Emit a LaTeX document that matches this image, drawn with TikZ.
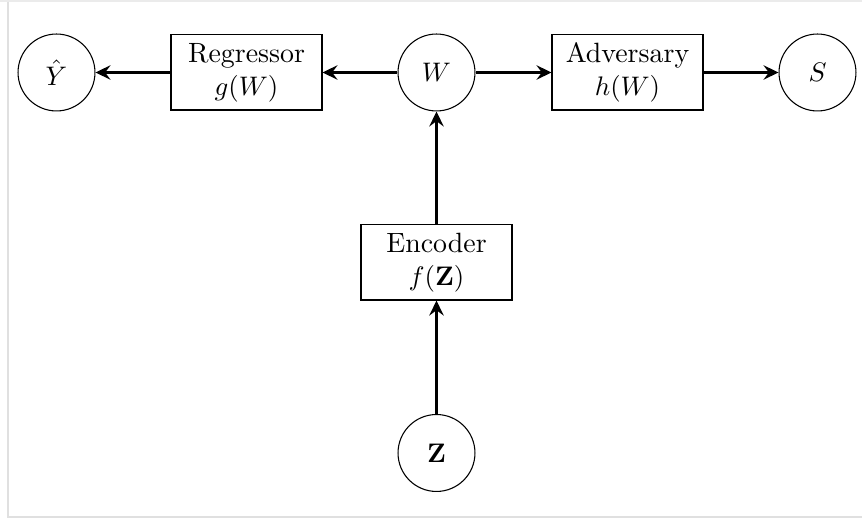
\documentclass[tikz,border=0pt]{standalone}
\usetikzlibrary{arrows.meta}
\begin{document}
\begin{tikzpicture}[x=0.373pt,y=-0.373pt,
  every node/.style={font=\fontsize{10.4pt}{12.4pt}\selectfont},
  varnode/.style={draw, circle, line width=0.4pt, minimum size=28.7pt, inner sep=0pt},
  blockbox/.style={draw, rectangle, line width=0.4pt, minimum width=56.3pt, minimum height=28pt, align=center, inner sep=0pt},
  flow/.style={-{Stealth[length=5.6pt,width=5.4pt,inset=2pt]}, line width=0.8pt}]
\useasboundingbox (0,0) rectangle (862,519);
% faint screenshot frame
\fill[black!8] (0,0) rectangle (862,2.2);
\draw[black!12, line width=0.5pt] (8,2) -- (8,517) -- (862,517);
% nodes
\node[varnode] (yhat) at (56.5,72.5) {$\hat{Y}$};
\node[blockbox] (reg) at (246.5,72.5) {Regressor\\ $g(W)$};
\node[varnode] (w) at (436.5,72.5) {$W$};
\node[blockbox] (adv) at (627.5,72.5) {Adversary\\ $h(W)$};
\node[varnode] (s) at (817.5,72.5) {$S$};
\node[blockbox] (enc) at (436.5,262.5) {Encoder\\ $f(\mathbf{Z})$};
\node[varnode] (z) at (436.5,453) {$\mathbf{Z}$};
% connectors
\draw[flow] (reg) -- (yhat);
\draw[flow] (w) -- (reg);
\draw[flow] (w) -- (adv);
\draw[flow] (adv) -- (s);
\draw[flow] (enc) -- (w);
\draw[flow] (z) -- (enc);
\end{tikzpicture}
\end{document}
